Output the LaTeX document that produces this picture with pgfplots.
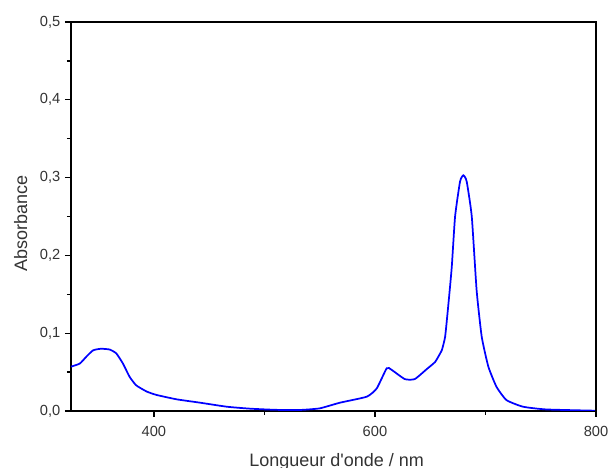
\documentclass[border=0pt]{standalone}
\usepackage{pgfplots}
\pgfplotsset{compat=1.18}
\usepackage{fontspec}
\setmainfont{Liberation Sans}
\newfontfamily\labfont{Liberation Sans}
\definecolor{txt}{HTML}{333333}
\begin{document}
\begin{tikzpicture}
\useasboundingbox (-53.25pt,-42.75pt) rectangle (402.75pt,308.25pt);
\begin{axis}[
  at={(0,0)}, anchor=south west,
  scale only axis, width=393.75pt, height=291.75pt,
  xmin=325, xmax=800, ymin=0, ymax=0.5,
  xtick={400,600,800}, minor xtick={500,700},
  ytick={0,0.1,0.2,0.3,0.4,0.5}, minor ytick={0.05,0.15,0.25,0.35,0.45},
  tick align=outside, tick pos=left,
  major tick length=4.5pt, minor tick length=3pt,
  every tick/.style={black, line width=1pt},
  axis line style={black, line width=1.4pt},
  /pgf/number format/assume math mode=true,
  yticklabel style={/pgf/number format/.cd, fixed, fixed zerofill, precision=1, use comma},
  xticklabel style={/pgf/number format/.cd, fixed, precision=0, /tikz/yshift=-3.5pt},
  ticklabel style={font=\fontsize{11}{13}\selectfont, text=txt},
  xlabel={Longueur d'onde / nm}, ylabel={Absorbance},
  label style={font=\labfont\fontsize{13.5}{15}\selectfont, text=txt},
  xlabel style={at={(axis description cs:0.506,-0.1414)}, anchor=base},
  ylabel style={at={(axis description cs:-0.0838,0.481)}, anchor=base},
]
\addplot[blue, line width=1.3pt, smooth, tension=0.3] coordinates {
(325,0.057) (333,0.061) (339,0.070) (345,0.078) (352,0.080) (360,0.079) (366,0.074)
(372,0.061) (378,0.044) (384,0.033) (393.5,0.025) (402.5,0.0206) (420.6,0.015)
(441.7,0.0107) (466,0.0055) (487,0.003) (510,0.0015) (532,0.0013) (550,0.0034)
(568.4,0.0107) (592.6,0.0184) (601.6,0.029) (610.7,0.055) (615,0.053) (627,0.041)
(636,0.041) (647,0.054) (654.4,0.063) (659,0.074) (660.5,0.078) (663.5,0.0955)
(666.5,0.138) (669.5,0.185) (672.5,0.250) (677,0.295) (680,0.303) (683,0.295)
(687.6,0.250) (692,0.155) (696.6,0.0955) (702.6,0.057) (710,0.031) (719,0.014)
(734,0.0055) (755,0.002) (799,0.0004)
};
\end{axis}
\end{tikzpicture}
\end{document}
